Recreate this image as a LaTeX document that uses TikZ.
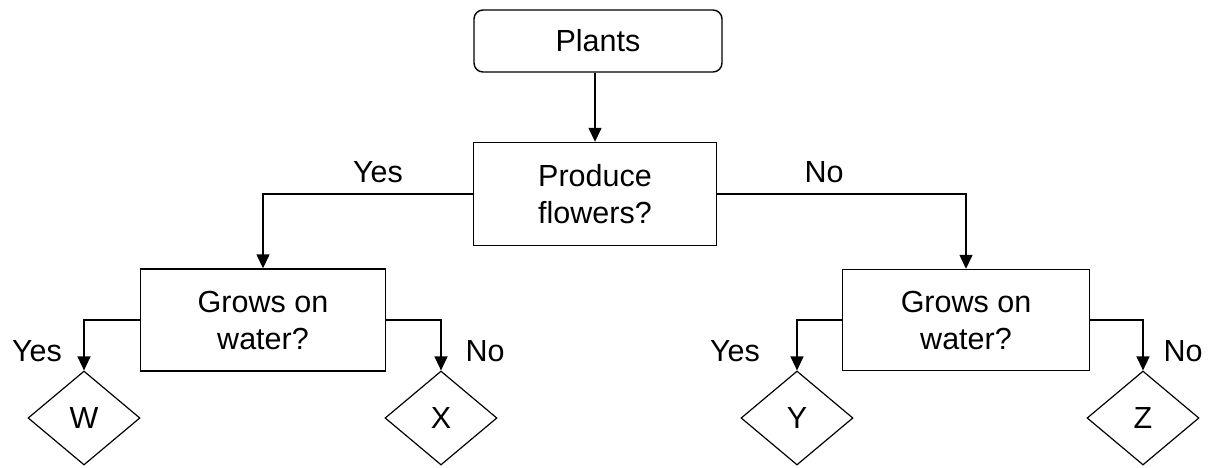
\documentclass[tikz,border=0pt]{standalone}
\usepackage{fontspec}
\setmainfont{Liberation Sans}
\usetikzlibrary{shapes.geometric,arrows.meta}
\begin{document}
\begin{tikzpicture}[x=1pt,y=-1pt,
  every node/.style={font=\fontsize{30.5}{37}\selectfont, inner sep=0pt},
  box/.style={draw, line width=1.4pt, align=center},
  leaf/.style={draw, diamond, line width=1.2pt, aspect=1.19, minimum width=112pt, minimum height=94pt},
  conn/.style={line width=1.4pt},
  arr/.style={conn, -{Triangle[length=14pt,width=13pt]}},
  lbl/.style={anchor=center}]
\useasboundingbox (0,0) rectangle (1209,468);
\node[box, rounded corners=9pt, minimum width=248pt, minimum height=62pt] (pl) at (598,41) {Plants};
\node[box, minimum width=243pt, minimum height=103pt] (pf) at (595,194) {Produce\\flowers?};
\node[box, minimum width=245pt, minimum height=102pt] (gl) at (263,320) {Grows on\\water?};
\node[box, minimum width=247pt, minimum height=101pt] (gr) at (966,320) {Grows on\\water?};
\node[leaf] (w) at (84,418) {W};
\node[leaf] (x) at (441,418) {X};
\node[leaf] (y) at (797,418) {Y};
\node[leaf] (z) at (1143,418) {Z};
\draw[arr] (pl.south -| pf.north) -- (pf.north);
\draw[arr] (pf.west) -| (gl.north);
\draw[arr] (pf.east) -| (gr.north);
\draw[arr] (gl.west) -| (w.north);
\draw[arr] (gl.east) -| (x.north);
\draw[arr] (gr.west) -| (y.north);
\draw[arr] (gr.east) -| (z.north);
\node[lbl] (ly) at (378,172) {Yes};
\node[lbl] (ln) at (824,172) {No};
\node[lbl] (lwy) at (37,351) {Yes};
\node[lbl] (lxn) at (485,351) {No};
\node[lbl] (lyy) at (735,351) {Yes};
\node[lbl] (lzn) at (1183,351) {No};
\end{tikzpicture}
\end{document}
